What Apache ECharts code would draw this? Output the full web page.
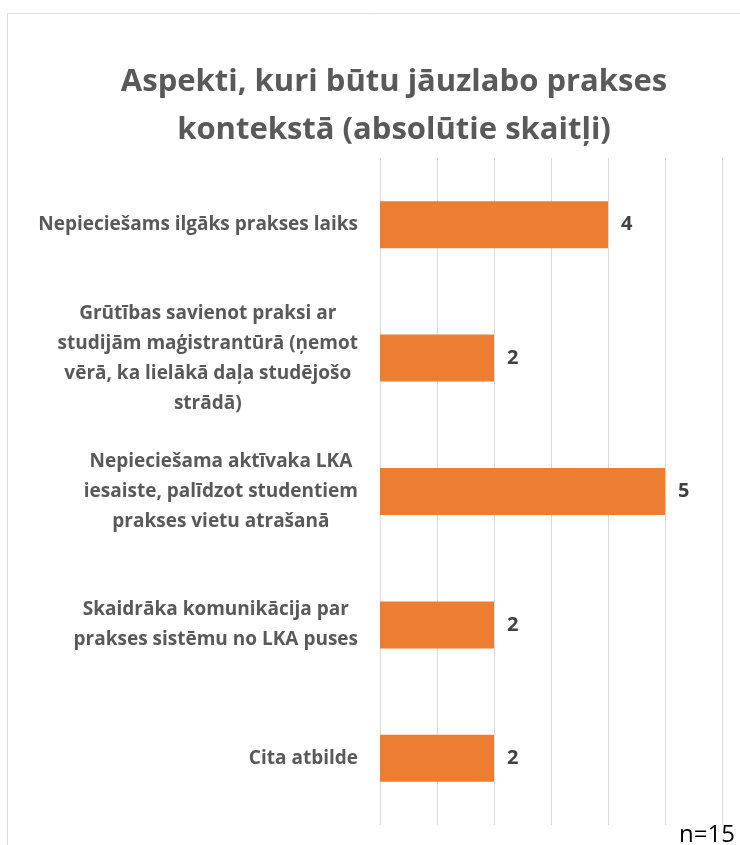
<!DOCTYPE html>
<html>
<head>
<meta charset="utf-8">
<script src="https://cdn.jsdelivr.net/npm/echarts@6/dist/echarts.min.js"></script>
<style>
  html, body { margin: 0; padding: 0; background: #fff; }
  #chart { width: 740px; height: 845px; }
</style>
</head>
<body>
<div id="chart"></div>
<script>
// kategorijas (no augšas uz leju)
var categories = [
    'Nepieciešams ilgāks prakses laiks',
    'Grūtības savienot praksi ar\nstudijām maģistrantūrā (ņemot\nvērā, ka lielākā daļa studējošo\nstrādā)',
    'Nepieciešama aktīvaka LKA\niesaiste, palīdzot studentiem\nprakses vietu atrašanā',
    'Skaidrāka komunikācija par\nprakses sistēmu no LKA puses',
    'Cita atbilde'
];
var values = [4, 2, 5, 2, 2];
var titleText = 'Aspekti, kuri būtu jāuzlabo prakses\nkontekstā (absolūtie skaitļi)';
var noteText = 'n=15';

var font = 'Open Sans';

var myChart = echarts.init(document.getElementById('chart'));
myChart.setOption({
    backgroundColor: '#fff',
    animation: false,
    title: {
        text: titleText,
        left: 389,
        top: 53,
        textAlign: 'center',
        textStyle: {
            fontFamily: font,
            fontSize: 31,
            fontWeight: 'bold',
            color: '#595959',
            lineHeight: 48
        }
    },
    // rāmis un piezīme
    graphic: [
        {
            type: 'rect',
            shape: {x: 7.5, y: 13.5, width: 900, height: 900},
            style: {fill: 'none', stroke: '#d9d9d9', lineWidth: 1},
            silent: true
        },
        {
            type: 'text',
            right: 5,
            bottom: -2,
            style: {
                text: noteText,
                fontFamily: font,
                fontSize: 24,
                fill: '#000'
            }
        }
    ],
    grid: {
        left: 380,
        right: 18,
        top: 158,
        bottom: 20,
        containLabel: false
    },
    xAxis: {
        type: 'value',
        min: 0,
        max: 6,
        interval: 1,
        axisLabel: {show: false},
        axisLine: {show: false},
        axisTick: {show: false},
        splitLine: {lineStyle: {color: '#d9d9d9', width: 1}}
    },
    yAxis: {
        type: 'category',
        inverse: true,
        data: categories,
        axisLine: {show: false},
        axisTick: {show: false},
        axisLabel: {
            margin: 22,
            formatter: function (value) {
                return value.split('\n').map(function (l) {
                    return '{c|' + l + '}';
                }).join('\n');
            },
            rich: {
                c: {
                    align: 'center',
                    fontFamily: font,
                    fontSize: 19,
                    fontWeight: 'bold',
                    color: '#595959',
                    lineHeight: 30
                }
            }
        }
    },
    series: [
        {
            type: 'bar',
            data: values,
            barWidth: 47,
            itemStyle: {color: '#ED7D31'},
            label: {
                show: true,
                position: 'right',
                distance: 13,
                fontFamily: font,
                fontSize: 20,
                fontWeight: 'bold',
                color: '#404040'
            }
        }
    ]
});
</script>
</body>
</html>
